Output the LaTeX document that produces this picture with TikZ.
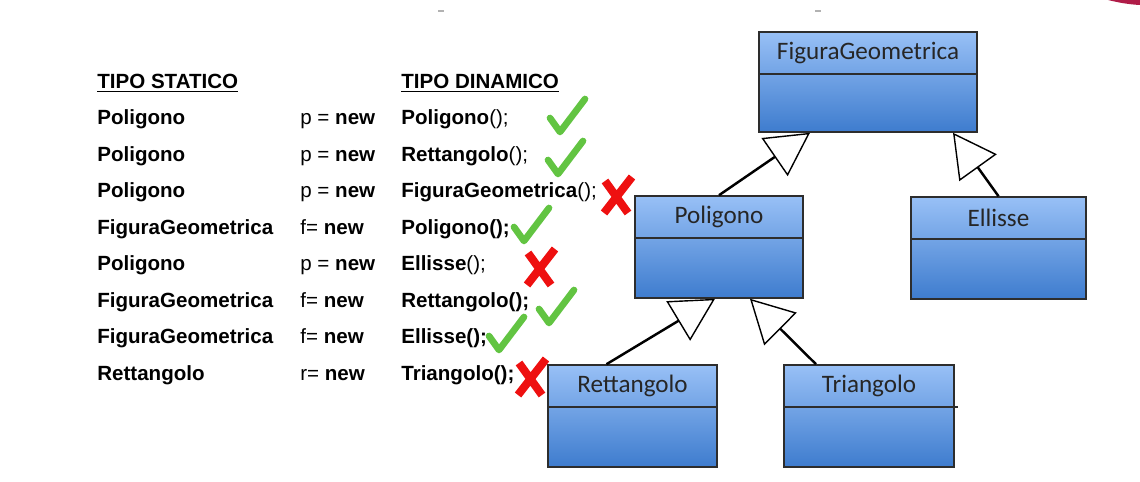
\documentclass[tikz,border=0pt]{standalone}
\usepackage{fontspec}
\setmainfont{Liberation Sans}
\newfontfamily\umlfont{Carlito}
\usetikzlibrary{arrows.meta,positioning,calc,shadows}
\definecolor{umltop}{RGB}{152,192,246}
\definecolor{umlbot}{RGB}{62,124,206}
\definecolor{umledge}{RGB}{45,45,45}
\definecolor{okgreen}{RGB}{98,196,66}
\definecolor{nored}{RGB}{238,16,16}
\definecolor{slidered}{RGB}{176,28,72}

\tikzset{
  umlclass/.style={draw=umledge, line width=0.9pt, top color=umltop, bottom color=umlbot, inner sep=0pt,
    drop shadow={opacity=0.2, shadow xshift=0.6pt, shadow yshift=-0.6pt}},
  umlname/.style={anchor=north, minimum height=0.85cm, inner sep=0pt, font=\umlfont\fontsize{14.3}{16}\selectfont, text=black!85},
  divider/.style={umledge, line width=1.2pt},
  cell/.style={anchor=base west, inner sep=0pt, font=\fontsize{11.7}{14}\selectfont},
  inherit/.style={line width=1.4pt, -{Triangle[fill=white, length=0.86cm, width=0.92cm, line width=0.8pt]}},
  okmark/.pic={\draw[okgreen, line width=3.8pt, line cap=round, line join=round] (-10,-14) -- (0,0) -- (25,-33);},
  nomark/.pic={\draw[nored, line width=4.6pt] (-12,-15) -- (11,17) (15,-19) -- (-13,17);}
}

\begin{document}
\begin{tikzpicture}[x=0.02cm, y=-0.02cm, >=Latex]
  \useasboundingbox (0,0) rectangle (1140,482);

  % slide leftovers
  \fill[slidered] (1108,0) .. controls (1120,3) and (1130,4.5) .. (1140,5) -- (1140,0) -- cycle;
  \draw[black!30, line width=0.8pt] (438,11) -- (444,11) (815,11) -- (821,11);

  % class boxes
  \node[umlclass, minimum width=4.36cm, minimum height=2cm] (fig) at (868,82) {};
  \node[umlname] (figname) at (fig.north) {FiguraGeometrica};
  \draw[divider] (fig.west |- figname.south) -- (fig.east |- figname.south);

  \node[umlclass, minimum width=3.36cm, minimum height=2.04cm] (pol) at (719,247) {};
  \node[umlname] (polname) at (pol.north) {Poligono};
  \draw[divider] (pol.west |- polname.south) -- (pol.east |- polname.south);

  \node[umlclass, minimum width=3.5cm, minimum height=2.04cm] (ell) at (998.5,248) {};
  \node[umlname] (ellname) at (ell.north) {Ellisse};
  \draw[divider] (ell.west |- ellname.south) -- (ell.east |- ellname.south);

  \node[umlclass, minimum width=3.38cm, minimum height=2.04cm] (ret) at (632.5,416) {};
  \node[umlname] (retname) at (ret.north) {Rettangolo};
  \draw[divider] (ret.west |- retname.south) -- (ret.east |- retname.south);

  \node[umlclass, minimum width=3.4cm, minimum height=2.04cm] (tri) at (869,416) {};
  \node[umlname] (triname) at (tri.north) {Triangolo};
  \draw[divider] (tri.west |- triname.south) -- ($(tri.east |- triname.south)+(3,0)$);

  % generalisations
  \draw[inherit] (pol.north) -- ($(fig.south)+(-58,0)$);
  \draw[inherit] (ell.north) -- ($(fig.south)+(85,0)$);
  \draw[inherit] ($(ret.north)+(-26,0)$) -- ($(pol.south)+(-4,0)$);
  \draw[inherit] ($(tri.north)+(-53,0)$) -- ($(pol.south)+(31,0)$);

  % table
  \node[cell] (hs) at (97,89) {\textbf{\underline{TIPO STATICO}}};
  \node[cell] (hd) at (401,89) {\textbf{\underline{TIPO DINAMICO}}};

  \node[cell] (s1) at (97,125) {\textbf{Poligono}};
  \node[cell] (v1) at (300,125) {p = \textbf{new}};
  \node[cell] (d1) at (401,125) {\textbf{Poligono}();};

  \node[cell] (s2) at (97,161.5) {\textbf{Poligono}};
  \node[cell] (v2) at (300,161.5) {p = \textbf{new}};
  \node[cell] (d2) at (401,161.5) {\textbf{Rettangolo}();};

  \node[cell] (s3) at (97,198) {\textbf{Poligono}};
  \node[cell] (v3) at (300,198) {p = \textbf{new}};
  \node[cell] (d3) at (401,198) {\textbf{FiguraGeometrica}();};

  \node[cell] (s4) at (97,234.5) {\textbf{FiguraGeometrica}};
  \node[cell] (v4) at (300,234.5) {f= \textbf{new}};
  \node[cell] (d4) at (401,234.5) {\textbf{Poligono();}};

  \node[cell] (s5) at (97,271) {\textbf{Poligono}};
  \node[cell] (v5) at (300,271) {p = \textbf{new}};
  \node[cell] (d5) at (401,271) {\textbf{Ellisse}();};

  \node[cell] (s6) at (97,307.5) {\textbf{FiguraGeometrica}};
  \node[cell] (v6) at (300,307.5) {f= \textbf{new}};
  \node[cell] (d6) at (401,307.5) {\textbf{Rettangolo();}};

  \node[cell] (s7) at (97,344) {\textbf{FiguraGeometrica}};
  \node[cell] (v7) at (300,344) {f= \textbf{new}};
  \node[cell] (d7) at (401,344) {\textbf{Ellisse();}};

  \node[cell] (s8) at (97,380.5) {\textbf{Rettangolo}};
  \node[cell] (v8) at (300,380.5) {r= \textbf{new}};
  \node[cell] (d8) at (401,380.5) {\textbf{Triangolo();}};

  % right / wrong
  \pic at (560,132) {okmark};
  \pic at (558,174) {okmark};
  \pic at (617,196) {nomark};
  \pic at (524,241) {okmark};
  \pic at (540,268) {nomark};
  \pic at (549,323) {okmark};
  \pic at (499,350) {okmark};
  \pic at (531,378) {nomark};
\end{tikzpicture}
\end{document}
